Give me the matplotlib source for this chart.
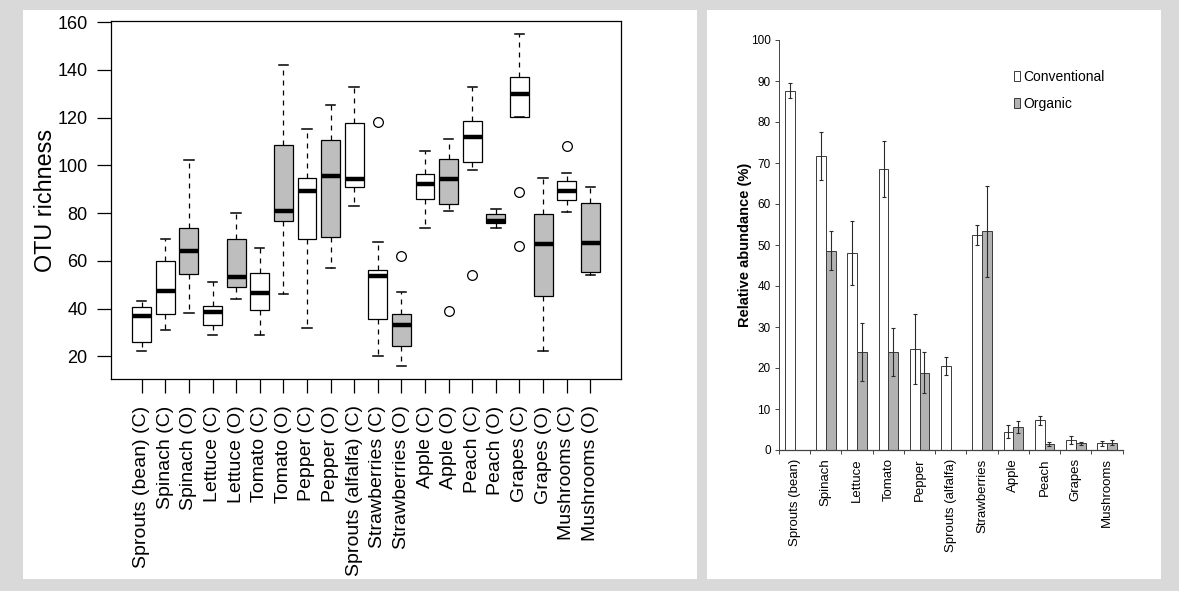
import numpy as np
import matplotlib
matplotlib.use('Agg')
import matplotlib.pyplot as plt
from matplotlib.patches import Rectangle, Patch

# --- painel esquerdo: riqueza de OTUs (boxplot) ---
amostras = ['Sprouts (bean) (C)', 'Spinach (C)', 'Spinach (O)', 'Lettuce (C)', 'Lettuce (O)',
            'Tomato (C)', 'Tomato (O)', 'Pepper (C)', 'Pepper (O)', 'Sprouts (alfalfa) (C)',
            'Strawberries (C)', 'Strawberries (O)', 'Apple (C)', 'Apple (O)', 'Peach (C)',
            'Peach (O)', 'Grapes (C)', 'Grapes (O)', 'Mushrooms (C)', 'Mushrooms (O)']
whis_lo = [22.2, 31.1, 38.0, 29.1, 44.2, 29.1, 46.3, 32.0, 57.0, 83.0,
           20.0, 16.1, 73.9, 81.1, 98.1, 73.9, 120.1, 22.1, 80.3, 54.2]
q1 = [26.0, 37.7, 54.7, 33.1, 49.2, 39.6, 76.6, 69.3, 70.0, 90.8,
      35.5, 24.5, 86.0, 83.7, 101.3, 75.9, 120.1, 45.2, 85.6, 55.5]
mediana = [37.1, 47.3, 64.1, 38.7, 53.3, 46.6, 81.1, 89.2, 95.7, 94.5,
           53.7, 33.1, 92.1, 94.5, 111.7, 76.9, 130.1, 67.0, 89.2, 67.6]
q3 = [40.5, 60.1, 73.6, 41.0, 69.1, 54.9, 108.5, 94.9, 110.6, 117.8,
      56.0, 37.8, 96.3, 102.8, 118.5, 79.8, 136.9, 79.6, 93.6, 84.4]
whis_hi = [43.0, 69.3, 102.1, 51.2, 80.0, 65.2, 141.9, 115.2, 125.1, 133.0,
           68.0, 47.0, 106.0, 111.2, 132.9, 81.9, 155.0, 94.9, 96.8, 90.8]
outliers = [[], [], [], [], [], [], [], [], [], [],
            [118.0], [62.0], [], [39.1], [54.0], [], [88.9, 66.1], [], [108.1], []]

# --- painel direito: abundância relativa (barras) ---
alimentos = ['Sprouts (bean)', 'Spinach', 'Lettuce', 'Tomato', 'Pepper', 'Sprouts (alfalfa)',
             'Strawberries', 'Apple', 'Peach', 'Grapes', 'Mushrooms']
conv_media = [87.6, 71.7, 48.1, 68.6, 24.7, 20.5, 52.4, 4.5, 7.3, 2.4, 1.6]
conv_erro = [1.8, 5.8, 7.8, 6.8, 8.5, 2.3, 2.5, 1.6, 1.1, 0.9, 0.65]
org_media = [0.0, 48.6, 23.9, 23.9, 18.8, 0.0, 53.3, 5.6, 1.4, 1.6, 1.8]
org_erro = [0.0, 4.8, 7.0, 5.8, 5.0, 0.0, 11.2, 1.4, 0.5, 0.4, 0.6]

plt.rcParams['font.family'] = ['Liberation Sans', 'DejaVu Sans']

W, H = 1179, 591
fig = plt.figure(figsize=(W / 100, H / 100), dpi=100, facecolor='#d9d9d9')

# fundos brancos dos dois paineis
fig.patches.append(Rectangle((23 / W, 1 - 579 / H), 674 / W, 569 / H, transform=fig.transFigure,
                             facecolor='white', edgecolor='none', zorder=-5))
fig.patches.append(Rectangle((707 / W, 1 - 579 / H), 454 / W, 569 / H, transform=fig.transFigure,
                             facecolor='white', edgecolor='none', zorder=-5))

# ---- BOXPLOT ----
ax1 = fig.add_axes([111 / W, 1 - 379 / H, 510 / W, 358 / H])
ax1.set_facecolor('white')
stats = []
for i in range(len(amostras)):
    stats.append(dict(whislo=whis_lo[i], q1=q1[i], med=mediana[i], q3=q3[i],
                      whishi=whis_hi[i], fliers=outliers[i]))
pos = np.arange(1, len(amostras) + 1)
bp = ax1.bxp(stats, positions=pos, widths=0.8, capwidths=0.4, patch_artist=True,
             boxprops=dict(linewidth=0.9, edgecolor='black'),
             medianprops=dict(color='black', linewidth=3.2, solid_capstyle='butt'),
             whiskerprops=dict(color='black', linewidth=0.9, linestyle=(0, (4, 4))),
             capprops=dict(color='black', linewidth=1.1),
             flierprops=dict(marker='o', markerfacecolor='none', markeredgecolor='black',
                             markersize=7, markeredgewidth=0.9))
for caixa, nome in zip(bp['boxes'], amostras):
    caixa.set_facecolor('#bebebe' if nome.endswith('(O)') else 'white')

ax1.set_xlim(-0.3, 21.3)
ax1.set_ylim(10.5, 160.5)
ax1.set_yticks([20, 40, 60, 80, 100, 120, 140, 160])
ax1.set_xticks(pos)
ax1.set_xticklabels(amostras, rotation=90, fontsize=14)
ax1.tick_params(axis='y', labelsize=13, pad=7)
ax1.tick_params(axis='both', length=10, width=0.9, color='black')
ax1.tick_params(axis='x', pad=9)
for sp in ax1.spines.values():
    sp.set_linewidth(0.9)
fig.text(45 / W, 1 - 200 / H, 'OTU richness', rotation=90, ha='center', va='center', fontsize=16.8)

# ---- BARRAS ----
ax2 = fig.add_axes([779 / W, 1 - 450 / H, 343.7 / W, 410 / H])
ax2.patch.set_alpha(0)
x = np.arange(len(alimentos))
w = 0.31
ax2.bar(x - w / 2, conv_media, w, color='white', edgecolor='#3a3a3a', linewidth=0.7, zorder=2)
ax2.bar(x + w / 2, org_media, w, color='#b2b2b2', edgecolor='#3a3a3a', linewidth=0.7, zorder=2)
conv_m = np.array(conv_media)
org_m = np.array(org_media)
conv_e = np.array(conv_erro)
org_e = np.array(org_erro)
ok_c = conv_e > 0
ok_o = org_e > 0
ax2.errorbar(x[ok_c] - w / 2, conv_m[ok_c], yerr=conv_e[ok_c], fmt='none', ecolor='#2a2a2a',
             elinewidth=0.8, capsize=1.6, capthick=0.8, zorder=3)
ax2.errorbar(x[ok_o] + w / 2, org_m[ok_o], yerr=org_e[ok_o], fmt='none', ecolor='#2a2a2a',
             elinewidth=0.8, capsize=1.6, capthick=0.8, zorder=3)

ax2.set_xlim(-0.5, len(alimentos) - 0.5)
ax2.set_ylim(0, 100)
ax2.set_yticks(np.arange(0, 101, 10))
ax2.set_xticks(x)
ax2.set_xticklabels(alimentos, rotation=90, fontsize=9.5)
ax2.set_xticks(np.arange(-0.5, len(alimentos)), minor=True)
ax2.tick_params(axis='y', labelsize=8.5)
ax2.tick_params(axis='x', which='major', length=0, pad=6)
ax2.tick_params(axis='x', which='minor', length=3, width=0.7, color='#444444')
ax2.tick_params(axis='y', length=3, width=0.7, color='#444444', pad=3)
ax2.spines['top'].set_visible(False)
ax2.spines['right'].set_visible(False)
ax2.spines['left'].set_color('#444444')
ax2.spines['bottom'].set_color('#444444')
ax2.spines['left'].set_linewidth(0.7)
ax2.spines['bottom'].set_linewidth(0.9)
fig.text(745 / W, 1 - 245 / H, 'Relative abundance (%)', rotation=90, ha='center', va='center',
         fontsize=10.5, fontweight='bold')

legenda = [Patch(facecolor='white', edgecolor='#3a3a3a', linewidth=0.7, label='Conventional'),
           Patch(facecolor='#b2b2b2', edgecolor='#3a3a3a', linewidth=0.7, label='Organic')]
ax2.legend(handles=legenda, loc='upper left', bbox_to_anchor=(1014 / W, 1 - 70 / H),
           bbox_transform=fig.transFigure, frameon=False, fontsize=10,
           handlelength=0.45, handleheight=0.7, handletextpad=0.25, labelspacing=0.95,
           borderpad=0, borderaxespad=0)

fig.savefig('out.png', dpi=100, facecolor=fig.get_facecolor())
plt.close(fig)
